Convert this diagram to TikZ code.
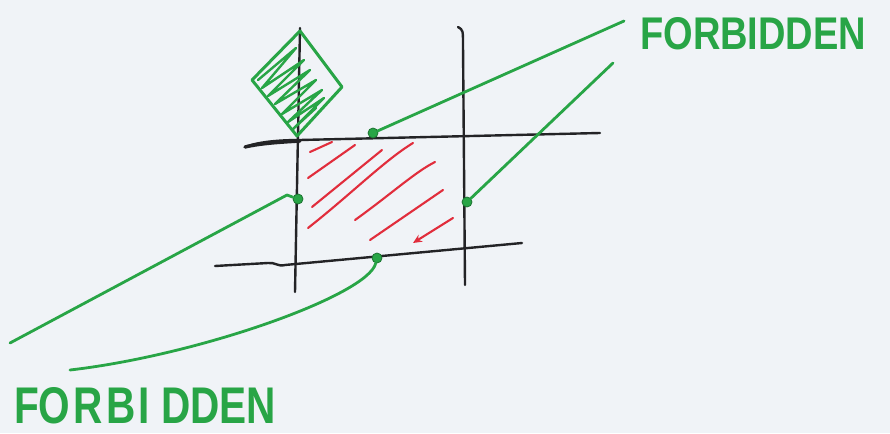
\documentclass[tikz,border=0pt]{standalone}
\usepackage{fontspec}
\setmainfont{Liberation Sans}
\usetikzlibrary{arrows.meta}
\definecolor{paper}{RGB}{240,243,247}
\definecolor{pen}{RGB}{35,35,38}
\definecolor{gpen}{RGB}{40,165,70}
\definecolor{rpen}{RGB}{225,45,60}
\tikzset{
  blk/.style={draw=pen, line width=2.4pt, line cap=round},
  grn/.style={draw=gpen, line width=2.8pt, line cap=round, line join=round},
  red/.style={draw=rpen, line width=2.1pt, line cap=round},
  gdot/.style={circle, fill=gpen, draw=gpen!70!black, line width=0.8pt, minimum size=10pt, inner sep=0pt},
  lbl/.style={text=gpen, inner sep=0pt, font=\bfseries},
}
\begin{document}
\begin{tikzpicture}[x=1pt,y=-1pt]
\fill[paper] (0,0) rectangle (890,433);
\useasboundingbox (0,0) rectangle (890,433);
% black grid lines
\coordinate (lvT) at (300,28); \coordinate (lvB) at (295,292);
\coordinate (rvT) at (458,27); \coordinate (rvB) at (465,285);
\coordinate (thL) at (245,147); \coordinate (thR) at (600,133);
\coordinate (bhL) at (215,266); \coordinate (bhR) at (522,243);
\draw[blk] (lvT) -- (lvB);
\draw[blk] (rvT) .. controls (463,30) .. (463,45) -- (rvB);
\draw[blk] (thL) .. controls (260,141) and (285,140) .. (300,140) -- (thR);
\draw[blk, line width=3.4pt] (thL) .. controls (262,143) and (285,142) .. (300,141);
\draw[blk] (bhL) -- (268,263) .. controls (275,262) and (278,267) .. (285,265) -- (bhR);
% red hatching
\draw[red] (310,152) -- (332,142);
\draw[red] (308,178) -- (355,145);
\draw[red] (312,207) -- (382,150);
\draw[red] (308,228) .. controls (350,195) and (385,160) .. (413,143);
\draw[red] (355,220) .. controls (390,195) and (415,172) .. (435,162);
\draw[red] (370,240) -- (443,190);
\draw[red, -{Stealth[length=9pt,width=8pt]}] (453,218) -- (413,243);
% green diamond
\draw[grn, line width=3pt] (300,31) -- (342,87) -- (297,136) -- (252,80) -- cycle;
\draw[grn, line width=2.4pt] (258,80) -- (296,48) -- (262,88) -- (304,60) -- (268,96) -- (310,70)
  -- (275,104) -- (316,80) -- (282,114) -- (322,90) -- (288,122) -- (324,98) -- (292,130) -- (316,108);
% green dots
\node[gdot] (dT) at (373,133) {};
\node[gdot] (dL) at (298,199) {};
\node[gdot] (dR) at (467,202) {};
\node[gdot] (dB) at (377,258) {};
% labels
\node[lbl, anchor=south west] (fTop) at (640,50) {\resizebox{226pt}{32pt}{FORBIDDEN}};
\node[lbl, anchor=south west] (fBot) at (14,424) {\resizebox{262pt}{36pt}{F{\addfontfeature{LetterSpace=8}ORBI} DDEN}};
% connectors
\coordinate (eT) at (624,21);
\coordinate (eR) at (613,63);
\coordinate (eL) at (10,343);
\coordinate (eB) at (70,370);
\draw[grn] (dT) -- (eT);
\draw[grn] (dR) -- (eR);
\draw[grn] (dL) -- (287,195) -- (eL);
\draw[grn] (dB) .. controls (368,295) and (200,355) .. (eB);
\end{tikzpicture}
\end{document}
